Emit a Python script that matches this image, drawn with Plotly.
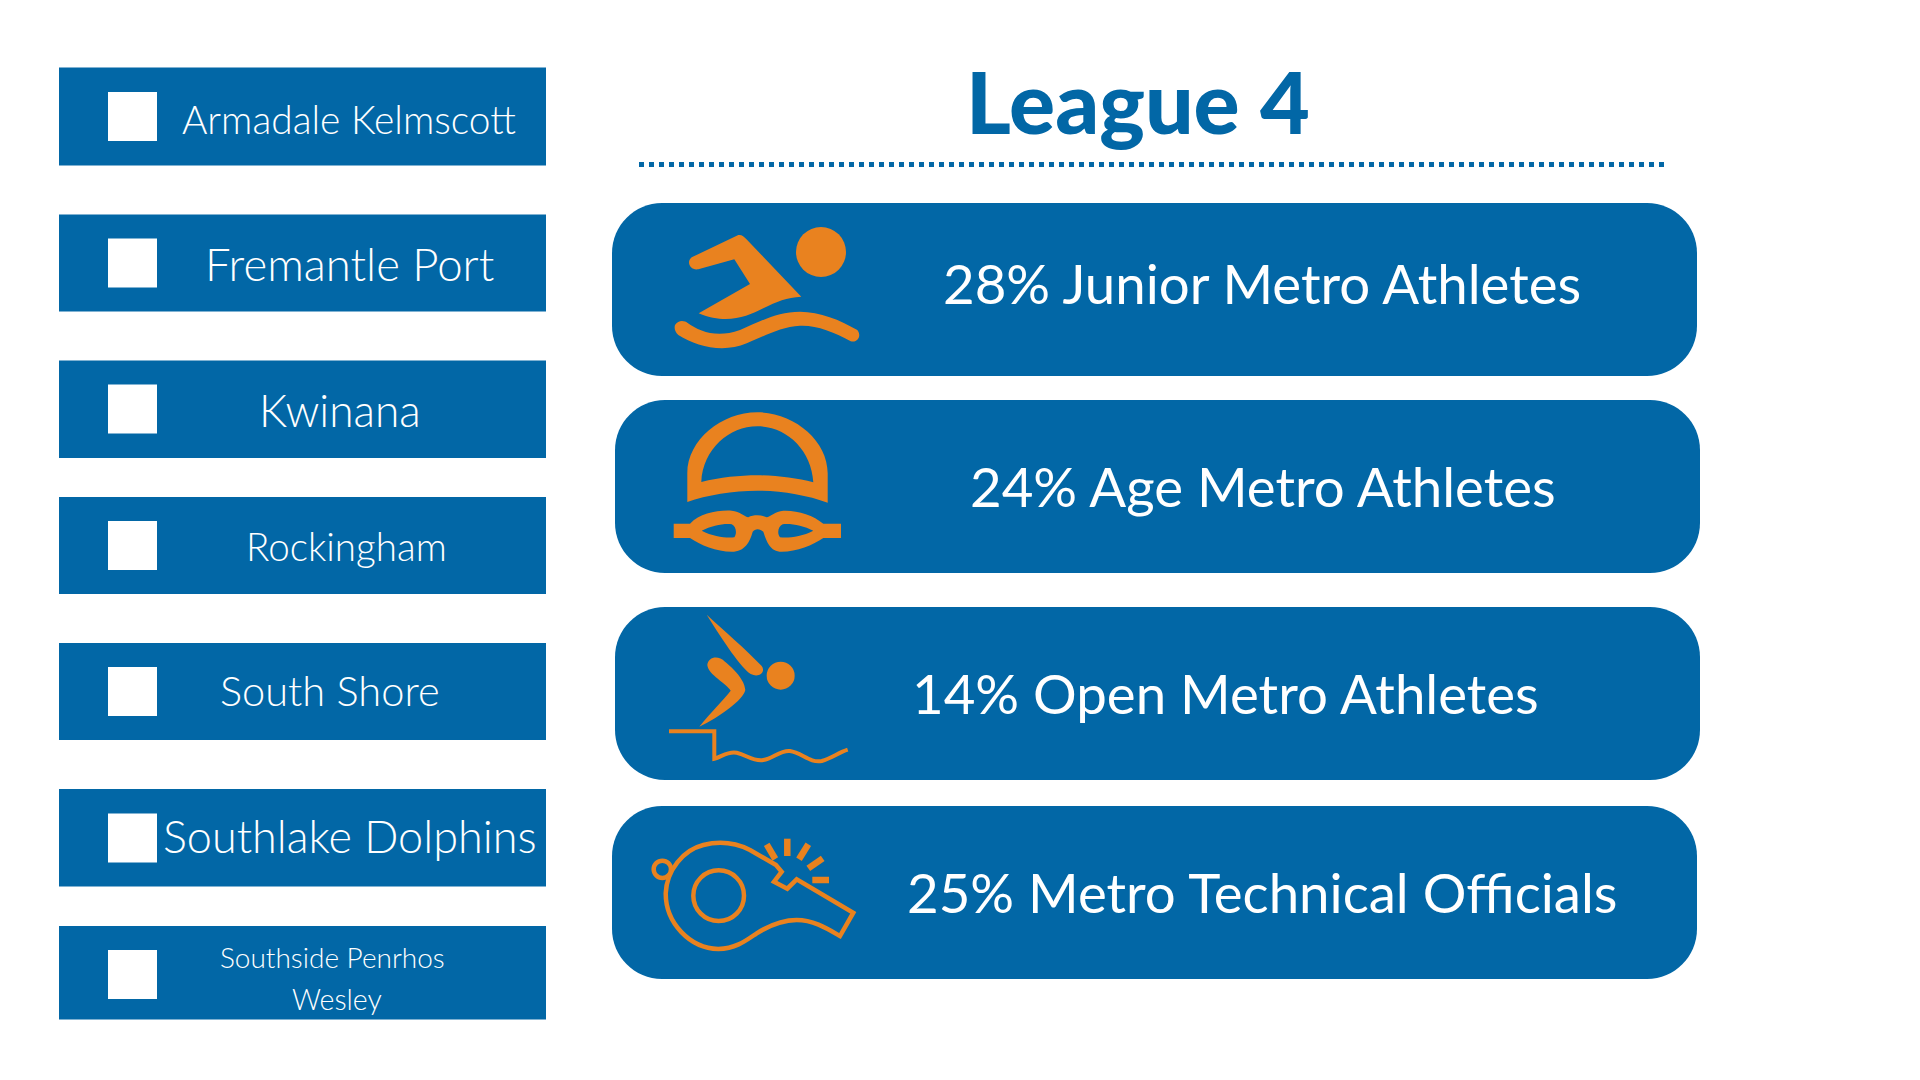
import re
import plotly.graph_objects as go

BLUE = "#0267A6"
ORANGE = "#E9821F"

title = "League 4"

clubs = ["Armadale Kelmscott", "Fremantle Port", "Kwinana", "Rockingham",
         "South Shore", "Southlake Dolphins", "Southside Penrhos", "Wesley"]
club_x = [349, 349.5, 340, 346, 330, 349.5, 332.5, 336.5]
club_y = [119, 263, 409, 546, 690, 836, 957, 999]
club_size = [38.9, 45.5, 44.3, 38.6, 41.6, 45, 28, 28.5]

box_top = [67.5, 214.5, 360.5, 497, 643, 789, 926]
box_bottom = [165.5, 311.5, 458, 594, 740, 886.5, 1019.5]
square_mid = [116.5, 263, 409, 545.5, 691.5, 838, 974.5]

shares = [28, 24, 14, 25]
groups = ["Junior Metro Athletes", "Age Metro Athletes", "Open Metro Athletes", "Metro Technical Officials"]
pill_left = [612, 615, 615, 612]
pill_top = [203, 400, 607, 806]
pill_h = 173
pill_w = 1085
stat_x = [1262, 1262.5, 1225, 1262]
stat_y = [283, 486, 693, 892]


def crop(path, ox, oy):
    # icon outlines were traced on 3x crops, bring them back to page pixels
    def conv(m):
        return f"{float(m.group(1)) / 3 + ox:.1f},{float(m.group(2)) / 3 + oy:.1f}"
    return re.sub(r"(-?[\d.]+),(-?[\d.]+)", conv, path)


def rounded(x0, y0, w, h, r):
    x1, y1 = x0 + w, y0 + h
    k = r * 0.45
    return (f"M{x0 + r},{y0} L{x1 - r},{y0} C{x1 - k},{y0} {x1},{y0 + k} {x1},{y0 + r} "
            f"L{x1},{y1 - r} C{x1},{y1 - k} {x1 - k},{y1} {x1 - r},{y1} "
            f"L{x0 + r},{y1} C{x0 + k},{y1} {x0},{y1 - k} {x0},{y1 - r} "
            f"L{x0},{y0 + r} C{x0},{y0 + k} {x0 + k},{y0} {x0 + r},{y0} Z")


swimmer = [
    "M415,165 C425,163 432,170 438,176 L604,350 C560,352 530,365 490,385 C440,410 380,435 296,400 "
    "L450,312 L403,238 L295,268 C270,272 258,245 275,232 Z",
    "M225,435 C235,418 255,422 262,428 C300,455 350,475 420,450 C480,425 530,395 600,395 "
    "C660,395 720,420 772,450 C785,465 775,490 752,484 C700,455 650,435 600,437 "
    "C540,440 490,470 440,490 C370,520 290,500 235,465 C225,455 222,445 225,435 Z",
]
cap = [
    "M262,966 L262,880 C262,780 365,697 472,697 C580,697 683,780 683,880 L683,968 "
    "C620,945 540,932 472,932 C400,932 320,945 262,966 Z "
    "M304,906 C360,892 420,886 472,886 C530,886 590,895 640,907 C634,808 558,739 472,739 C388,739 308,808 304,906 Z",
    "M270,1031 C300,1000 350,990 395,992 C420,995 435,1010 445,1012 C460,1004 485,1004 500,1012 "
    "C510,1010 525,995 550,992 C590,990 640,1005 670,1031 L723,1031 L723,1074 L670,1074 "
    "C640,1095 590,1115 545,1115 C510,1115 500,1085 490,1055 C480,1045 465,1045 458,1055 "
    "C450,1085 435,1115 395,1115 C350,1115 300,1095 270,1074 L221,1074 L221,1031 Z "
    "M305,1052 C335,1038 370,1030 395,1033 C408,1038 412,1060 403,1072 C380,1075 340,1070 305,1052 Z "
    "M640,1052 C610,1038 575,1030 548,1033 C535,1038 530,1060 540,1072 C565,1075 605,1070 640,1052 Z",
]
diver = [
    "M320,44 C370,90 440,150 485,198 C498,215 478,235 452,222 C425,205 370,125 320,44 Z",
    "M322,195 C325,170 355,165 375,185 C400,205 435,240 436,270 C430,300 360,350 298,380 "
    "C330,340 370,300 392,272 C380,250 325,225 322,195 Z",
]
diver_line = ("M207,394 L343,394 L343,476 C365,470 385,452 410,458 C440,465 460,485 490,480 "
              "C520,475 540,450 570,453 C605,458 630,490 665,483 C695,475 715,458 743,449")
whistle = ("M528,795 L450,750 C400,725 350,725 310,735 C250,750 200,810 197,880 C197,970 270,1045 355,1047 "
           "C410,1045 440,1020 470,1000 C510,975 550,960 590,960 C640,960 680,985 720,1008 L760,938 "
           "L590,838 L562,866 L522,845 L545,815 Z")
rays = ["M500,733 L526,777", "M562,716 L562,768", "M625,733 L597,778", "M668,775 L625,805", "M687,840 L637,840"]

fig = go.Figure()
shapes = []


def fill_path(path):
    shapes.append(dict(type="path", path=path, fillcolor=ORANGE, fillrule="evenodd", line_width=0))


def line_path(path, w):
    shapes.append(dict(type="path", path=path, line=dict(color=ORANGE, width=w)))


def circle(cx, cy, r, ox, oy, fill=True, w=0):
    box = dict(x0=cx / 3 + ox - r / 3, x1=cx / 3 + ox + r / 3, y0=cy / 3 + oy - r / 3, y1=cy / 3 + oy + r / 3)
    if fill:
        shapes.append(dict(type="circle", fillcolor=ORANGE, line_width=0, **box))
    else:
        shapes.append(dict(type="circle", line=dict(color=ORANGE, width=w), **box))


# club list on the left
for top, bottom, mid in zip(box_top, box_bottom, square_mid):
    shapes.append(dict(type="rect", x0=59, x1=546, y0=top, y1=bottom, fillcolor=BLUE, line_width=0))
    shapes.append(dict(type="rect", x0=108, x1=157, y0=mid - 24.5, y1=mid + 24.5, fillcolor="white", line_width=0))

# stat pills
for left, top in zip(pill_left, pill_top):
    shapes.append(dict(type="path", path=rounded(left, top, pill_w, pill_h, 50), fillcolor=BLUE, line_width=0))

shapes.append(dict(type="line", x0=639, x1=1665, y0=164.5, y1=164.5,
                   line=dict(color=BLUE, width=5, dash="5px,5px")))

for p in swimmer + cap:
    fill_path(crop(p, 600, 180))
circle(663, 216, 75, 600, 180)

for p in diver:
    fill_path(crop(p, 600, 600))
circle(542, 227, 42, 600, 600)
line_path(crop(diver_line, 600, 600), 4)

line_path(crop(whistle, 600, 600), 4.5)
circle(187, 808, 26, 600, 600, fill=False, w=4.5)
circle(356, 887, 76, 600, 600, fill=False, w=4.5)
for p in rays:
    line_path(crop(p, 600, 600), 6.5)

for name, x, y, size in zip(clubs, club_x, club_y, club_size):
    fig.add_annotation(x=x, y=y, text=name, showarrow=False, xanchor="center", yanchor="middle",
                       font=dict(family="Lato", size=size, color="white", weight=300))

for share, group, x, y in zip(shares, groups, stat_x, stat_y):
    fig.add_annotation(x=x, y=y, text=f"{share}% {group}", showarrow=False, xanchor="center", yanchor="middle",
                       font=dict(family="Lato", size=54.6, color="white"))

fig.add_annotation(x=1137.5, y=100, text=title, showarrow=False, xanchor="center", yanchor="middle",
                   font=dict(family="Lato", size=86, color=BLUE, weight=900))

fig.update_layout(
    width=1920, height=1080, autosize=False,
    margin=dict(l=0, r=0, t=0, b=0),
    paper_bgcolor="white", plot_bgcolor="white",
    showlegend=False, shapes=shapes,
    xaxis=dict(range=[0, 1920], visible=False, fixedrange=True),
    yaxis=dict(range=[1080, 0], visible=False, fixedrange=True),
)

fig.write_html("out.html", config=dict(displayModeBar=False),
               post_script="document.body.style.margin='0';document.body.style.overflow='hidden';")
